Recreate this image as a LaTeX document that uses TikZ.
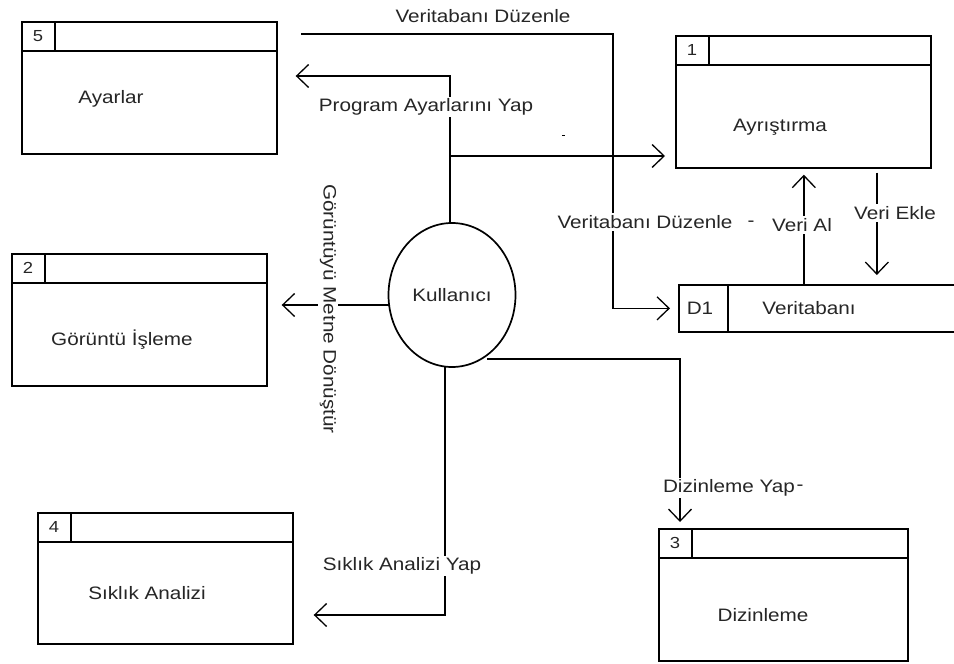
\documentclass[tikz,border=0pt]{standalone}
\usepackage{fontspec}
\setmainfont{Liberation Sans}[FakeStretch=1.15]
\usetikzlibrary{arrows.meta,shapes.geometric}

% header strip of a process box: number cell and title bar
\newcommand{\dfdheader}[2]{%
  \draw ([yshift=-30pt]#1.north west) -- ([yshift=-30pt]#1.north east);
  \draw ([xshift=34pt]#1.north west) -- ([xshift=34pt,yshift=-30pt]#1.north west);
  \node[numtxt] (#1num) at ([xshift=17pt,yshift=-15pt]#1.north west) {#2};
}

\begin{document}
\begin{tikzpicture}[x=1pt,y=-1pt,
  line width=1.7pt,
  font=\fontsize{18}{20}\selectfont,
  every node/.style={text=black!85, inner sep=1pt},
  procbox/.style={draw, rectangle, anchor=north west, minimum width=255pt,
                  minimum height=132pt, inner sep=0pt},
  flow/.style={-{Straight Barb[length=12pt,width=23pt,line width=1.3pt]}},
  lbl/.style={fill=white, inner sep=2pt},
  numtxt/.style={font=\fontsize{16}{18}\selectfont},
]
\useasboundingbox[fill=white] (0,0) rectangle (954,664);

% ---- process boxes ----
\node[procbox] (p5) at (21,21) {};
\dfdheader{p5}{5}
\node (t5) at (111,99) {Ayarlar};

\node[procbox] (p1) at (675,35) {};
\dfdheader{p1}{1}
\node (t1) at (780,127) {Ayrıştırma};

\node[procbox] (p2) at (11,253) {};
\dfdheader{p2}{2}
\node (t2) at (122,340) {Görüntü İşleme};

\node[procbox, minimum width=249pt] (p3) at (658,528) {};
\dfdheader{p3}{3}
\node (t3) at (763,615) {Dizinleme};

\node[procbox, minimum height=131pt] (p4) at (37,512) {};
\dfdheader{p4}{4}
\node (t4) at (147,593) {Sıklık Analizi};

% ---- data store (open on the right) ----
\node[anchor=north west, minimum width=275pt, minimum height=45pt, inner sep=0pt] (d1) at (679,285) {};
\draw (d1.north east) -- (d1.north west) -- (d1.south west) -- (d1.south east);
\draw ([xshift=49pt]d1.north west) -- ([xshift=49pt]d1.south west);
\node (d1id) at (700,308) {D1};
\node (d1name) at (809,308) {Veritabanı};

% ---- external entity ----
\node[draw, ellipse, minimum width=127pt, minimum height=144pt, inner sep=0pt] (user) at (452,295) {Kullanıcı};

% ---- flows ----
\coordinate (vdStart) at (301,34);
\coordinate (vdBend) at (613,34);
\draw[flow, shorten >=9pt] (vdStart) -- (vdBend) |- (d1.west);

\coordinate (uTop) at ([xshift=-2pt]user.north);
\coordinate (pBend) at (450,76);
\draw[flow, shorten >=18pt] (uTop) -- (pBend) -- (pBend -| p5.east);
\coordinate (aJoin) at (450,156);
\draw[flow, shorten >=10pt] (aJoin) -- (aJoin -| p1.west);

\draw[flow, shorten >=6pt] ([xshift=-13.5pt]d1.north) -- ([xshift=-13.5pt]d1.north |- p1.south);
\draw[flow, shorten <=4pt, shorten >=10pt] ([xshift=73.5pt]p1.south) -- ([xshift=73.5pt]p1.south |- d1.north);

\coordinate (gStart) at (390,305);
\draw[flow, shorten >=14pt] (gStart) -- (gStart -| p2.east);

\coordinate (dStart) at (487,359);
\draw[flow, shorten >=6pt] (dStart) -| ([xshift=22pt]p3.north west);

\coordinate (sStart) at (445,367);
\coordinate (sBend) at (445,615);
\draw[flow, shorten >=20pt] (sStart) -- (sBend) -- (sBend -| p4.east);

% ---- flow labels ----
\node (vdTop) at (483,16) {Veritabanı Düzenle};
\node[lbl] (vdMid) at (645,222) {Veritabanı Düzenle};
\node (vdDash) at (751,224) {-};
\node[lbl] (pLbl) at (426,107) {Program Ayarlarını Yap};
\draw[line width=1pt] (562,135) -- (565,135);
\node[lbl] (alLbl) at (802,225) {Veri Al};
\node[lbl] (ekLbl) at (895,213) {Veri Ekle};
\node[lbl, rotate=-90] (gLbl) at (328,309) {Görüntüyü Metne Dönüştür};
\node[lbl] (dLbl) at (729,488) {Dizinleme Yap};
\node (dDash) at (800,488) {-};
\node[lbl] (sLbl) at (402,566) {Sıklık Analizi Yap};
\end{tikzpicture}
\end{document}
